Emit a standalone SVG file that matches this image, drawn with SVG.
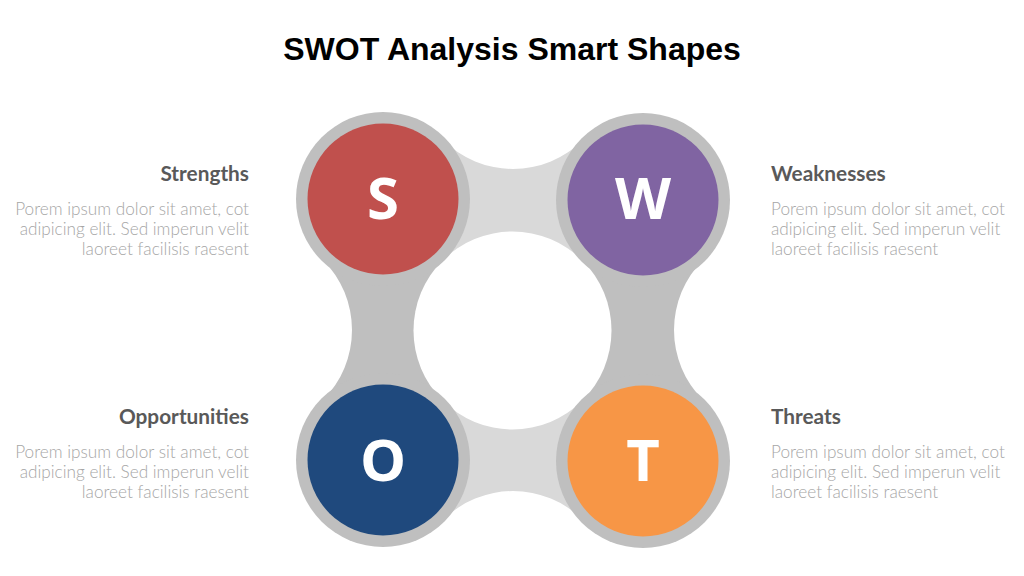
<svg xmlns="http://www.w3.org/2000/svg" width="1024" height="576" viewBox="0 0 1024 576">
<style>
.title{font-family:"Liberation Sans",Arial,sans-serif;font-weight:bold;font-size:32px;fill:#000}
.head{font-family:Lato,"Open Sans",sans-serif;font-weight:bold;font-size:20.8px;fill:#595959}
.body{font-family:Lato,"Open Sans",sans-serif;font-weight:300;font-size:17.2px;fill:#a6a6a6}
.letter{font-family:"Open Sans",Lato,sans-serif;font-weight:bold;font-size:58px;fill:#fff;text-anchor:middle}
.ring{fill:#bfbfbf}
.light{fill:#d9d9d9}
.dark{fill:#bfbfbf}
.r{text-anchor:end}
</style>
<rect width="1024" height="576" fill="#fff"/>
<text class="title" x="512" y="60" text-anchor="middle">SWOT Analysis Smart Shapes</text>
<g id="connectors">
<path class="light" d="M383,199 L443,140 A99,99 0 0 0 583,140 L643,199 L513,330 Z"/>
<path class="light" d="M383,460 L443,520 A99,99 0 0 1 583,520 L643,460 L513,330 Z"/>
<path class="dark" d="M383,199 L323,260 A99,99 0 0 1 323,400 L383,460 L513,330 Z"/>
<path class="dark" d="M643,199 L703,260 A99,99 0 0 0 703,400 L643,460 L513,330 Z"/>
<circle cx="512.5" cy="330.5" r="99" fill="#fff"/>
</g>
<g id="node-s">
<circle class="ring" cx="383" cy="199" r="87"/>
<circle cx="383" cy="199" r="75.5" fill="#c0504d"/>
<text class="letter" x="383" y="219">S</text>
</g>
<g id="node-w">
<circle class="ring" cx="643" cy="200" r="87"/>
<circle cx="643" cy="200" r="75.5" fill="#8064a2"/>
<text class="letter" x="643" y="219">W</text>
</g>
<g id="node-o">
<circle class="ring" cx="383" cy="460" r="87"/>
<circle cx="383" cy="460" r="75.5" fill="#1f497d"/>
<text class="letter" x="383" y="481">O</text>
</g>
<g id="node-t">
<circle class="ring" cx="643" cy="461" r="87"/>
<circle cx="643" cy="461" r="75.5" fill="#f79646"/>
<text class="letter" x="643" y="481">T</text>
</g>
<g id="label-strengths">
<text class="head r" x="249" y="181">Strengths</text>
<text class="body r" x="249" y="214.5">Porem ipsum dolor sit amet, cot</text>
<text class="body r" x="249" y="234.5">adipicing elit. Sed imperun velit</text>
<text class="body r" x="249" y="254.5">laoreet facilisis raesent</text>
</g>
<g id="label-weaknesses">
<text class="head" x="771" y="181">Weaknesses</text>
<text class="body" x="771" y="214.5">Porem ipsum dolor sit amet, cot</text>
<text class="body" x="771" y="234.5">adipicing elit. Sed imperun velit</text>
<text class="body" x="771" y="254.5">laoreet facilisis raesent</text>
</g>
<g id="label-opportunities">
<text class="head r" x="249" y="424">Opportunities</text>
<text class="body r" x="249" y="457.5">Porem ipsum dolor sit amet, cot</text>
<text class="body r" x="249" y="477.5">adipicing elit. Sed imperun velit</text>
<text class="body r" x="249" y="497.5">laoreet facilisis raesent</text>
</g>
<g id="label-threats">
<text class="head" x="771" y="424">Threats</text>
<text class="body" x="771" y="457.5">Porem ipsum dolor sit amet, cot</text>
<text class="body" x="771" y="477.5">adipicing elit. Sed imperun velit</text>
<text class="body" x="771" y="497.5">laoreet facilisis raesent</text>
</g>
</svg>
